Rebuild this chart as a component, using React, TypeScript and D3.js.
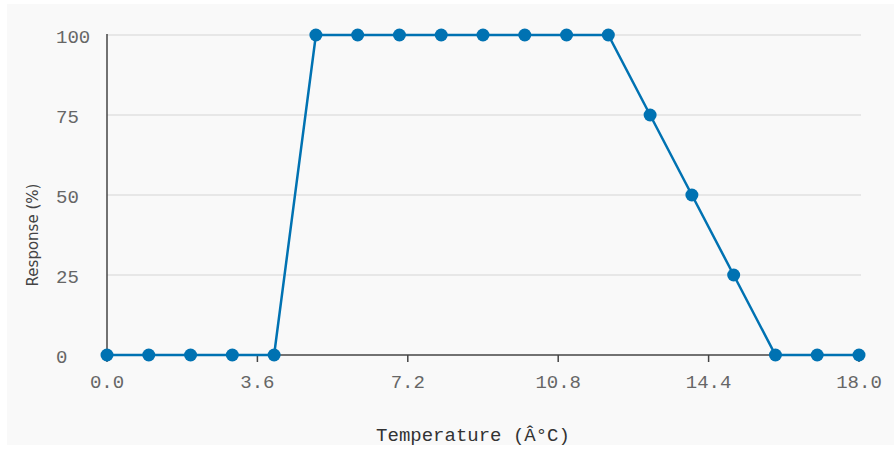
import React from "react";
import * as d3 from "d3";

const temps = [0, 1, 2, 3, 4, 5, 6, 7, 8, 9, 10, 11, 12, 13, 14, 15, 16, 17, 18];
const responses = [0, 0, 0, 0, 0, 100, 100, 100, 100, 100, 100, 100, 100, 75, 50, 25, 0, 0, 0];
const xTicks = [0, 3.6, 7.2, 10.8, 14.4, 18];
const yTicks = [0, 25, 50, 75, 100];
const xLabel = "Temperature (Â°C)";
const yLabel = "Response (%)";

export default function App() {
  const W = 894, H = 450;
  const left = 107, right = 859, top = 35, bottom = 355;
  const x = d3.scaleLinear().domain([0, 18]).range([left, right]);
  const y = d3.scaleLinear().domain([0, 100]).range([bottom, top]);
  const data = temps.map((t, i) => ({ t, r: responses[i] }));
  const line = d3.line<{ t: number; r: number }>().x(d => x(d.t)).y(d => y(d.r));
  const mono = "'Liberation Mono', 'DejaVu Sans Mono', monospace";
  return (
    <svg width={W} height={H} style={{ position: "absolute", left: 0, top: 0 }}>
      <rect x={7} y={4} width={W - 7} height={441} fill="#f9f9f9" />
      {yTicks.filter(v => v !== 0).map(v => (
        <line key={"g" + v} x1={left} x2={right + 2} y1={y(v)} y2={y(v)} stroke="#e0e0e0" strokeWidth={1.5} />
      ))}
      <line x1={left} x2={left} y1={top - 1} y2={bottom} stroke="#444" strokeWidth={1.5} />
      <line x1={left} x2={right} y1={bottom} y2={bottom} stroke="#444" strokeWidth={1.5} />
      {xTicks.map(v => (
        <g key={"x" + v}>
          <line x1={x(v)} x2={x(v)} y1={bottom} y2={bottom + 7} stroke="#444" strokeWidth={1.5} />
          <text x={x(v)} y={388} textAnchor="middle" fontFamily={mono} fontSize={19} fill="#666">
            {v.toFixed(1)}
          </text>
        </g>
      ))}
      {yTicks.map(v => (
        <text key={"y" + v} x={56} y={y(v) + 8} textAnchor="start" fontFamily={mono} fontSize={19} fill="#666">
          {v}
        </text>
      ))}
      <path d={line(data) || ""} fill="none" stroke="#0072B2" strokeWidth={2.5} />
      {data.map(d => (
        <circle key={"p" + d.t} cx={x(d.t)} cy={y(d.r)} r={6.5} fill="#0072B2" />
      ))}
      <text x={473} y={441} textAnchor="middle" fontFamily={mono} fontSize={19} fill="#333">
        {xLabel}
      </text>
      <text
        transform={`translate(38,${(top + bottom) / 2 + 40}) rotate(-90)`}
        textAnchor="middle"
        fontFamily="'DejaVu Sans', sans-serif"
        fontSize={15}
        fill="#444"
      >
        {yLabel}
      </text>
    </svg>
  );
}
